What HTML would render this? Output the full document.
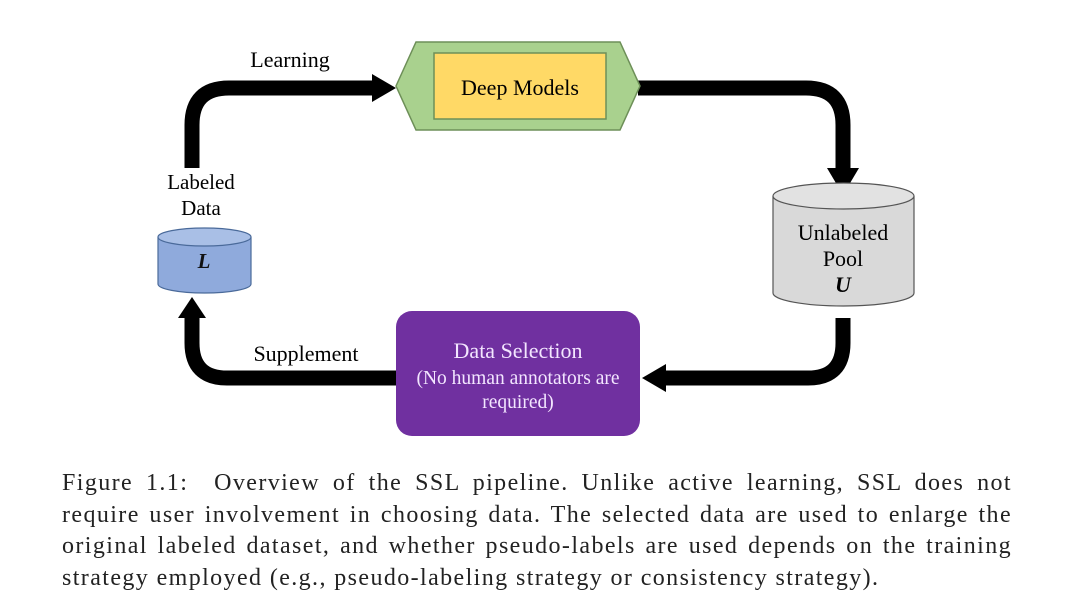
<!DOCTYPE html>
<html><head><meta charset="utf-8"><style>
body{margin:0;width:1080px;height:613px;background:#fff;overflow:hidden;position:relative;font-family:"Liberation Serif",serif}
svg{position:absolute;left:0;top:0}
.cap{position:absolute;left:62px;top:468px;width:950px;font-size:24px;letter-spacing:1.4px;line-height:31.7px;color:#222}
.cap div{text-align:justify;text-align-last:justify;white-space:nowrap}
.cap div.l{text-align-last:left}
</style></head><body>
<svg width="1080" height="613" viewBox="0 0 1080 613">
<g fill="none" stroke="#000" stroke-width="15">
<path d="M192 168 V125 Q192 88 229 88 H376"/>
<path d="M638 88 H806 Q843 88 843 125 V172"/>
<path d="M843 318 V343 Q843 378 808 378 H660"/>
<path d="M398 378 H227 Q192 378 192 343 V318"/>
</g>
<g fill="#000">
<polygon points="372,74 396,88 372,102"/>
<polygon points="827,168 859,168 843,195"/>
<polygon points="666,364 642,378 666,392"/>
<polygon points="178,318 206,318 192,297"/>
</g>
<polygon points="396,86 416,42 620,42 640,86 620,130 416,130" fill="#a9d18e" stroke="#6d8f58" stroke-width="1.5"/>
<rect x="434" y="53" width="172" height="66" fill="#ffd966" stroke="#6d8f58" stroke-width="1.5"/>
<text x="520" y="95" font-size="22" text-anchor="middle" font-family="Liberation Serif">Deep Models</text>
<path d="M773 196 V293 A70.5 13 0 0 0 914 293 V196" fill="#d9d9d9" stroke="#555" stroke-width="1.2"/>
<ellipse cx="843.5" cy="196" rx="70.5" ry="13" fill="#e2e2e2" stroke="#555" stroke-width="1.2"/>
<text x="843" y="240" font-size="22" text-anchor="middle">Unlabeled</text>
<text x="843" y="266" font-size="22" text-anchor="middle">Pool</text>
<text x="843" y="292" font-size="22" text-anchor="middle" font-style="italic" font-weight="bold">U</text>
<path d="M158 237 V284 A46.5 9 0 0 0 251 284 V237" fill="#8faadc" stroke="#4a6a9a" stroke-width="1.2"/>
<ellipse cx="204.5" cy="237" rx="46.5" ry="9" fill="#a9bfe6" stroke="#4a6a9a" stroke-width="1.2"/>
<text x="204" y="268" font-size="21" text-anchor="middle" font-style="italic" font-weight="bold" fill="#111">L</text>
<text x="201" y="189" font-size="21" text-anchor="middle">Labeled</text>
<text x="201" y="215" font-size="21" text-anchor="middle">Data</text>
<text x="290" y="67" font-size="22" text-anchor="middle">Learning</text>
<text x="306" y="361" font-size="22" text-anchor="middle">Supplement</text>
<rect x="396" y="311" width="244" height="125" rx="16" fill="#7030a0"/>
<text x="518" y="358" font-size="22" text-anchor="middle" fill="#f3e6ff">Data Selection</text>
<text x="518" y="384" font-size="19.5" text-anchor="middle" fill="#f3e6ff">(No human annotators are</text>
<text x="518" y="408" font-size="19.5" text-anchor="middle" fill="#f3e6ff">required)</text>
</svg>
<div class="cap">
<div>Figure 1.1:&nbsp; Overview of the SSL pipeline. Unlike active learning, SSL does not</div>
<div>require user involvement in choosing data. The selected data are used to enlarge the</div>
<div>original labeled dataset, and whether pseudo-labels are used depends on the training</div>
<div class="l">strategy employed (e.g., pseudo-labeling strategy or consistency strategy).</div>
</div>
</body></html>
